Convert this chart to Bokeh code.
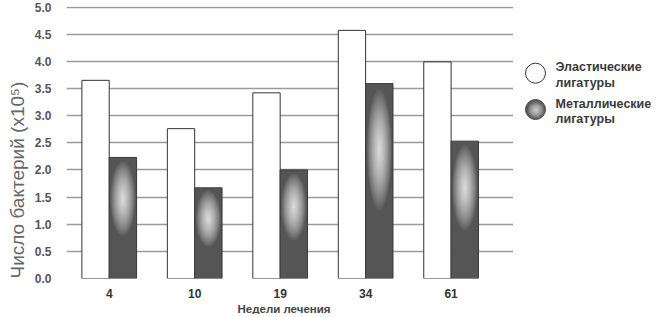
import numpy as np
from bokeh.plotting import figure
from bokeh.models import ColumnDataSource, Range1d, FixedTicker, Title, PrintfTickFormatter
from bokeh.layouts import row
from bokeh.embed import file_html
from bokeh.resources import INLINE
from bokeh.core.properties import value

# ---- data ----
weeks = ["4", "10", "19", "34", "61"]
elastic = [3.65, 2.76, 3.42, 4.57, 3.99]
metallic = [2.23, 1.67, 2.00, 3.59, 2.53]
series_names = ["Эластические\nлигатуры", "Металлические\nлигатуры"]
y_ticks = [0.0, 0.5, 1.0, 1.5, 2.0, 2.5, 3.0, 3.5, 4.0, 4.5, 5.0]
x_title = "Недели лечения"
y_title = "Число бактерий (x10⁵)"

FONT = "Liberation Sans"
H = 314
TOP = 6
BOTTOM_PANEL = 36  # observed height of x-axis + title panels

xpos = np.arange(1, len(weeks) + 1, dtype=float)
bw = 0.32
elastic_a = np.array(elastic)
metal_a = np.array(metallic)

p = figure(width=513, height=H, x_range=Range1d(0.5, 5.73), y_range=Range1d(0, 5.01),
           output_backend="svg", toolbar_location=None,
           min_border_left=0, min_border_right=0, min_border_top=TOP, min_border_bottom=0)
p.outline_line_color = None
p.background_fill_color = "white"

# bars
p.vbar(x=xpos - bw / 2, top=elastic_a, width=bw, bottom=0,
       fill_color="white", line_color="#333333", line_width=1)
p.vbar(x=xpos + bw / 2, top=metal_a, width=bw, bottom=0,
       fill_color="#555555", line_color="#3a3a3a", line_width=1)

# glow inside metallic bars (layered translucent ellipses, soft falloff)
N = 30
gx, gy, gw, gh = [], [], [], []
for k in range(N):
    s = (1.0 - k / N) ** 1.4
    for xi, v in zip(xpos, metal_a):
        gx.append(xi + bw / 2)
        gy.append(0.66 * v)
        gw.append(25 * s)
        gh.append(0.62 * v * s)
glow = ColumnDataSource(dict(x=gx, y=gy, w=gw, h=gh))
p.ellipse(x="x", y="y", width="w", height="h", source=glow,
          width_units="screen", height_units="data",
          fill_color="white", fill_alpha=0.06, line_color=None)

# axes
p.xaxis.ticker = FixedTicker(ticks=list(xpos))
p.xaxis.major_label_overrides = {int(xi): w for xi, w in zip(xpos, weeks)}
p.xaxis.axis_line_color = None
p.xaxis.major_tick_line_color = None
p.xaxis.minor_tick_line_color = None
p.xaxis.major_label_text_font = FONT
p.xaxis.major_label_text_font_style = "bold"
p.xaxis.major_label_text_font_size = "12px"
p.xaxis.major_label_text_color = "#333333"
p.xaxis.major_label_standoff = 4

p.yaxis.ticker = FixedTicker(ticks=y_ticks)
p.yaxis.formatter = PrintfTickFormatter(format="%.1f")
p.yaxis.axis_line_color = None
p.yaxis.major_tick_line_color = None
p.yaxis.minor_tick_line_color = None
p.yaxis.major_label_text_font = FONT
p.yaxis.major_label_text_font_style = "bold"
p.yaxis.major_label_text_font_size = "12px"
p.yaxis.major_label_text_color = "#555555"
p.yaxis.major_label_standoff = 9

p.xgrid.grid_line_color = None
p.ygrid.ticker = FixedTicker(ticks=y_ticks)
p.ygrid.grid_line_color = "#9a9a9a"
p.ygrid.grid_line_width = 1.4

p.add_layout(Title(text=x_title, align="left", offset=171, text_font=FONT,
                   text_font_style="bold", text_font_size="11.5px", text_color="#444444",
                   standoff=0), "below")
p.add_layout(Title(text=y_title, align="left", offset=0, text_font=FONT,
                   text_font_style="normal", text_font_size="19px", text_color="#666666",
                   standoff=8), "left")

# ---- legend panel (its frame is aligned with the main frame in the row) ----
LW = 146
leg = figure(width=LW, height=H, x_range=Range1d(0, LW),
             y_range=Range1d(H - BOTTOM_PANEL, TOP),
             x_axis_type=None, y_axis_type=None,
             output_backend="svg", toolbar_location=None,
             min_border=0, min_border_left=0, min_border_right=0,
             min_border_top=0, min_border_bottom=0)
leg.grid.visible = False
leg.outline_line_color = None

cy = [72.7, 109.0]
cx = 22
leg.scatter(x=[cx], y=[cy[0]], size=20, marker="circle",
            fill_color="white", line_color="#333333", line_width=1)
leg.scatter(x=[cx], y=[cy[1]], size=20, marker="circle",
            fill_color="#5a5a5a", line_color="#4a4a4a", line_width=1)
M = 12
for k in range(M):
    s = 1.0 - k / M
    leg.scatter(x=[cx + 0.5], y=[cy[1] + 0.5], size=17 * s, marker="circle",
                fill_color="white", fill_alpha=0.09, line_color=None)

tx, ty, tt = [], [], []
for c, name in zip(cy, series_names):
    first, second = name.split("\n")
    tx += [42, 42]
    ty += [c - 6, c + 9.5]
    tt += [first, second]
leg.text(x=tx, y=ty, text=tt, text_font=value(FONT),
         text_font_style="bold", text_font_size="12.5px", text_color="#3a3a3a",
         text_align="left", text_baseline="middle")

layout = row(p, leg)

open("out.html", "w").write(file_html(layout, INLINE))
